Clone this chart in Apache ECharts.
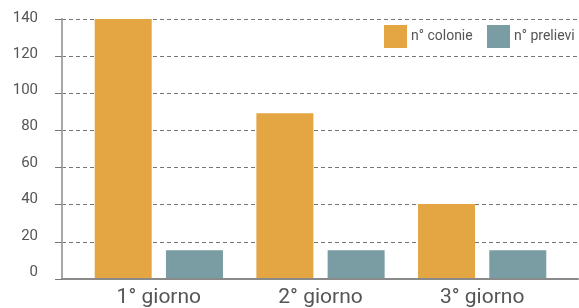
<!DOCTYPE html>
<html>
<head>
<meta charset="utf-8">
<script src="https://cdn.jsdelivr.net/npm/echarts@6/dist/echarts.min.js"></script>
<style>html,body{margin:0;padding:0;background:#fff;}#c{width:579px;height:308px;}</style>
</head>
<body>
<div id="c"></div>
<script>
const categories = ['1° giorno', '2° giorno', '3° giorno'];
const colonie = [140, 89, 40];
const prelievi = [15, 15, 15];
const seriesNames = ['n° colonie', 'n° prelievi'];
const yMin = 0, yMax = 140, yStep = 20;

const FONT = 'Roboto';
// small upward shift of each y label (px), as in the reference
const labelShift = v => Math.round(1 + (140 - v) / 140 * 6);
const rich = {};
for (let v = yMin; v <= yMax; v += yStep) {
  rich['o' + v] = {fontFamily: FONT, fontSize: 15, color: '#555', padding: [0, 0, 2 * labelShift(v), 0]};
}

const legendBase = {
  top: 25, padding: 0,
  itemWidth: 23, itemHeight: 23,
  icon: 'rect',
  textStyle: {fontFamily: FONT, fontSize: 14, color: '#555', padding: [0, 0, 0, -1]}
};

const chart = echarts.init(document.getElementById('c'), null, {renderer: 'canvas'});
chart.setOption({
  animation: false,
  backgroundColor: '#ffffff',
  textStyle: {fontFamily: FONT},
  grid: [
    {left: 62, right: 1, top: 19, bottom: 29},
    {left: 78, right: 16, top: 19, bottom: 29}
  ],
  legend: [
    Object.assign({left: 384, data: [seriesNames[0]]}, legendBase),
    Object.assign({left: 487, data: [seriesNames[1]]}, legendBase)
  ],
  xAxis: [
    {gridIndex: 0, type: 'value', min: 0, max: 1,
     axisLine: {show: true, onZero: false, lineStyle: {color: '#8a8a8a', width: 2}},
     axisTick: {show: false}, axisLabel: {show: false}, splitLine: {show: false}},
    {gridIndex: 1, type: 'category', data: categories,
     axisLine: {show: false}, axisTick: {show: false},
     axisLabel: {fontFamily: FONT, fontSize: 21, color: '#555', margin: 9}}
  ],
  yAxis: [
    {gridIndex: 0, type: 'value', min: yMin, max: yMax, interval: yStep,
     axisLine: {show: true, lineStyle: {color: '#a8a8a8', width: 2}},
     axisTick: {show: true, length: 7, lineStyle: {color: '#777'}},
     axisLabel: {margin: 24, formatter: v => '{o' + v + '|' + v + '}', rich: rich},
     splitLine: {show: true, lineStyle: {color: '#777', type: [4, 3], width: 1}}},
    {gridIndex: 1, type: 'value', min: yMin, max: yMax, interval: yStep, show: false}
  ],
  series: [
    {name: seriesNames[0], type: 'bar', xAxisIndex: 1, yAxisIndex: 1, data: colonie,
     barWidth: 57, barGap: '25%', itemStyle: {color: '#E3A643'}},
    {name: seriesNames[1], type: 'bar', xAxisIndex: 1, yAxisIndex: 1, data: prelievi,
     barWidth: 57, barGap: '25%', itemStyle: {color: '#799DA3'}}
  ]
});
</script>
</body>
</html>
